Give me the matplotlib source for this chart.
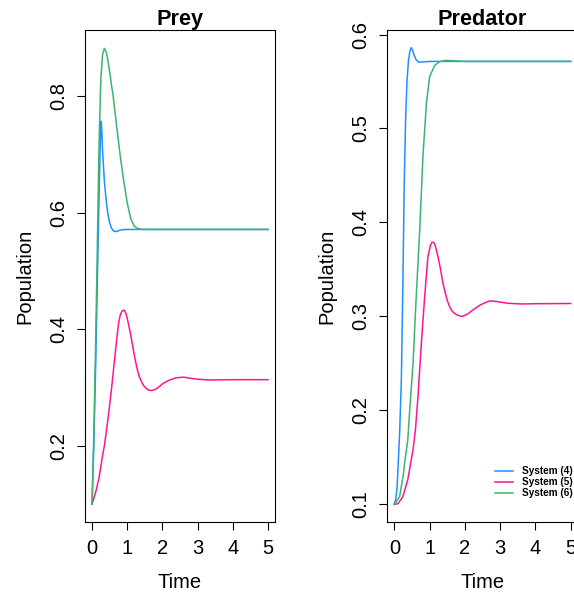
import matplotlib.pyplot as plt

plt.rcParams["font.family"] = ["Liberation Sans", "DejaVu Sans"]

series_labels = ["System (4)", "System (5)", "System (6)"]
series_colors = ["#1E90FF", "#FF1493", "#3CB371"]

# Prey population
prey4_t = [0, 0.05, 0.1, 0.15, 0.2, 0.225, 0.25, 0.26, 0.275, 0.3, 0.35, 0.4,
           0.45, 0.5, 0.55, 0.6, 0.65, 0.7, 0.8, 0.9, 1.0, 2, 3, 4, 5]
prey4_y = [0.1, 0.2, 0.33, 0.48, 0.63, 0.70, 0.752, 0.757, 0.745, 0.705, 0.655,
           0.622, 0.598, 0.583, 0.574, 0.5695, 0.5678, 0.568, 0.5703, 0.5712,
           0.5714, 0.5714, 0.5714, 0.5714, 0.5714]

prey5_t = [0, 0.12, 0.2, 0.265, 0.3, 0.35, 0.41, 0.45, 0.48, 0.515, 0.55,
           0.585, 0.62, 0.65, 0.69, 0.72, 0.75, 0.775, 0.8, 0.825, 0.85, 0.875,
           0.9, 0.925, 0.95, 0.975, 1.0, 1.05, 1.1, 1.15, 1.2, 1.25, 1.3, 1.35,
           1.4, 1.45, 1.5, 1.6, 1.7, 1.8, 1.9, 2.0, 2.2, 2.4, 2.6, 2.8, 3.0,
           3.3, 3.6, 4.0, 5]
prey5_y = [0.1, 0.1245, 0.146, 0.170, 0.184, 0.200, 0.227, 0.245, 0.26, 0.278,
           0.296, 0.316, 0.337, 0.354, 0.376, 0.393, 0.408, 0.417, 0.424, 0.428,
           0.431, 0.4325, 0.433, 0.432, 0.429, 0.425, 0.419, 0.405, 0.39, 0.373,
           0.356, 0.341, 0.328, 0.318, 0.311, 0.305, 0.301, 0.296, 0.295, 0.297,
           0.301, 0.3065, 0.313, 0.317, 0.318, 0.316, 0.3145, 0.3132, 0.3133,
           0.3137, 0.3137]

prey6_t = [0, 0.05, 0.1, 0.15, 0.2, 0.25, 0.3, 0.35, 0.4, 0.45, 0.5, 0.55, 0.6,
           0.7, 0.8, 0.9, 1.0, 1.1, 1.2, 1.3, 1.4, 1.6, 2, 3, 4, 5]
prey6_y = [0.1, 0.22, 0.37, 0.54, 0.72, 0.83, 0.872, 0.882, 0.876, 0.862,
           0.842, 0.82, 0.80, 0.748, 0.698, 0.655, 0.617, 0.590, 0.577, 0.573,
           0.5716, 0.5714, 0.5714, 0.5714, 0.5714, 0.5714]

# Predator population
pred4_t = [0, 0.04, 0.08, 0.1, 0.15, 0.2, 0.24, 0.28, 0.32, 0.36, 0.4, 0.44,
           0.48, 0.52, 0.56, 0.62, 0.7, 0.8, 1.0, 2, 3, 4, 5]
pred4_y = [0.1, 0.105, 0.119, 0.135, 0.175, 0.235, 0.33, 0.44, 0.51, 0.551,
           0.572, 0.582, 0.586, 0.583, 0.578, 0.573, 0.5705, 0.5708, 0.5714,
           0.5714, 0.5714, 0.5714, 0.5714]

pred5_t = [0, 0.1, 0.24, 0.38, 0.53, 0.6, 0.67, 0.76, 0.86, 0.95, 1.02, 1.06,
           1.1, 1.14, 1.17, 1.24, 1.3, 1.38, 1.45, 1.5, 1.57, 1.65, 1.75, 1.85,
           1.93, 2.1, 2.23, 2.45, 2.7, 2.9, 3.2, 3.6, 4.0, 5]
pred5_y = [0.1, 0.1005, 0.108, 0.126, 0.158, 0.18, 0.2145, 0.268, 0.321, 0.363,
           0.375, 0.3785, 0.379, 0.3775, 0.374, 0.363, 0.352, 0.335, 0.324,
           0.317, 0.310, 0.305, 0.302, 0.3005, 0.300, 0.303, 0.307, 0.3125,
           0.3165, 0.3158, 0.314, 0.3132, 0.3135, 0.3137]

pred6_t = [0, 0.15, 0.26, 0.29, 0.38, 0.43, 0.53, 0.62, 0.72, 0.81, 0.91, 1.0,
           1.14, 1.28, 1.45, 1.7, 2.0, 3, 4, 5]
pred6_y = [0.1, 0.108, 0.133, 0.1436, 0.168, 0.197, 0.25, 0.321, 0.392, 0.470,
           0.527, 0.555, 0.567, 0.571, 0.5725, 0.572, 0.5714, 0.5714, 0.5714,
           0.5714]

x_ticks = [0, 1, 2, 3, 4, 5]
prey_ticks = [0.2, 0.4, 0.6, 0.8]
pred_ticks = [0.1, 0.2, 0.3, 0.4, 0.5, 0.6]


def style_panel(ax, title, yticks, ylim):
    ax.set_xlim(-0.2, 5.2)
    ax.set_ylim(*ylim)
    ax.set_xticks(x_ticks)
    ax.set_yticks(yticks)
    ax.set_yticklabels([f"{v:g}" for v in yticks], rotation=90, va="center")
    ax.tick_params(direction="out", length=6, width=0.8, labelsize=14.5)
    ax.tick_params(axis="y", pad=6)
    ax.tick_params(axis="x", pad=6)
    for spine in ax.spines.values():
        spine.set_linewidth(0.8)
    ax.set_title(title, fontsize=15.6, fontweight="bold", pad=4)
    ax.set_xlabel("Time", fontsize=14.5, va="center")
    ax.xaxis.set_label_coords(0.5, -0.122)
    ax.set_ylabel("Population", fontsize=14.5, va="center")
    ax.yaxis.set_label_coords(-0.316, 0.5)


fig = plt.figure(figsize=(5.74, 5.93), dpi=100)
ax_prey = fig.add_axes([0.1481, 0.1192, 0.3310, 0.8297])
ax_pred = fig.add_axes([0.6747, 0.1192, 0.3319, 0.8297])

prey_series = [(prey4_t, prey4_y), (prey5_t, prey5_y), (prey6_t, prey6_y)]
pred_series = [(pred4_t, pred4_y), (pred5_t, pred5_y), (pred6_t, pred6_y)]

for (t, y), color in zip(prey_series, series_colors):
    ax_prey.plot(t, y, color=color, linewidth=1.1)

lines = []
for (t, y), color in zip(pred_series, series_colors):
    (line,) = ax_pred.plot(t, y, color=color, linewidth=1.1)
    lines.append(line)

style_panel(ax_prey, "Prey", prey_ticks, (0.069, 0.913))
style_panel(ax_pred, "Predator", pred_ticks, (0.0808, 0.6045))

ax_pred.legend(
    lines,
    series_labels,
    loc="center left",
    bbox_to_anchor=(495 / 574, 0.1867),
    bbox_transform=fig.transFigure,
    frameon=False,
    prop={"weight": "bold", "size": 7.2},
    handlelength=1.8,
    handletextpad=0.85,
    labelspacing=0.12,
    borderpad=0,
    borderaxespad=0,
)

fig.savefig("out.png", dpi=100)
